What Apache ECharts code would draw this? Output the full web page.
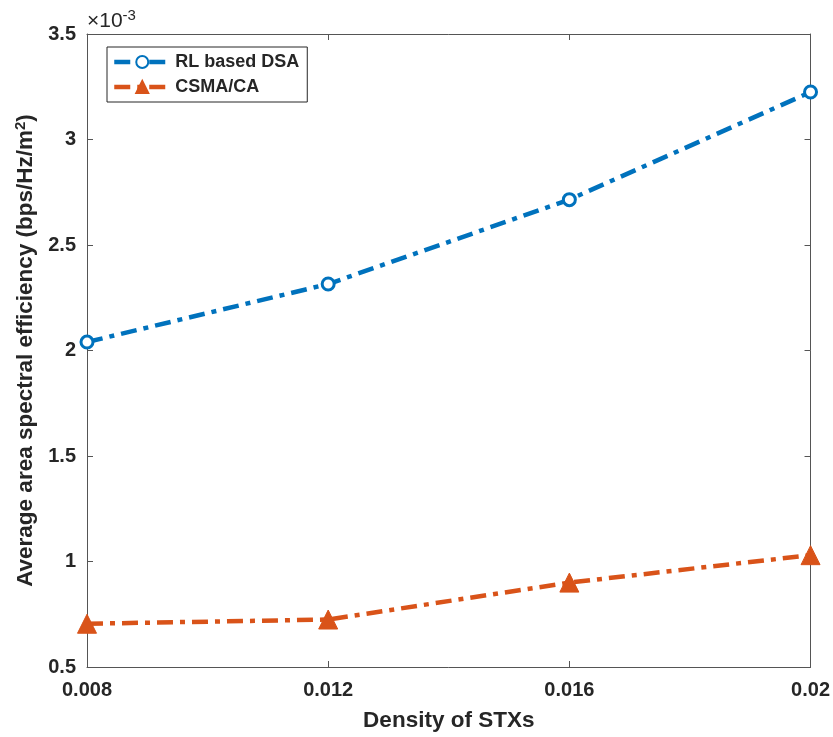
<!DOCTYPE html>
<html>
<head>
<meta charset="utf-8">
<script src="https://cdn.jsdelivr.net/npm/echarts@6/dist/echarts.min.js"></script>
<style>html,body{margin:0;padding:0;background:#fff}#c{width:833px;height:737px}</style>
</head>
<body>
<div id="c"></div>
<script>
// Density of STXs
var densities = [0.008, 0.012, 0.016, 0.02];
// Average area spectral efficiency, in units of 1e-3 bps/Hz/m^2
var rlDsa = [2.04, 2.315, 2.715, 3.225];
var csmaCa = [0.705, 0.725, 0.90, 1.03];
var xTicks = [0.008, 0.012, 0.016, 0.02];
var yTicks = [0.5, 1, 1.5, 2, 2.5, 3, 3.5];

var FONT = 'Liberation Sans, Arial, Helvetica, sans-serif';
var TXT = '#262626';
var chart = echarts.init(document.getElementById('c'));

function pairs(xs, ys) { return xs.map(function (x, i) { return [x, ys[i]]; }); }

var axisCommon = {
  axisLine: { show: true, onZero: false, lineStyle: { color: '#555', width: 1 } },
  axisTick: { show: true, inside: true, length: 6, lineStyle: { color: '#555' } },
  splitLine: { show: false }
};

chart.setOption({
  animation: false,
  backgroundColor: '#fff',
  grid: { left: 87, right: 22, top: 34, bottom: 68, containLabel: false },
  xAxis: [
    Object.assign({
      type: 'value', min: 0.008, max: 0.02, interval: 0.004,
      name: 'Density of STXs', nameLocation: 'middle', nameGap: 42,
      nameTextStyle: { fontFamily: FONT, fontWeight: 'bold', fontSize: 22.5, color: TXT },
      axisLabel: { fontFamily: FONT, fontWeight: 'bold', fontSize: 20, color: TXT, margin: 13,
        formatter: function (v) { return String(+v.toFixed(3)); } }
    }, axisCommon),
    Object.assign({
      type: 'value', position: 'top', min: 0.008, max: 0.02, interval: 0.004,
      axisLabel: { show: false }
    }, axisCommon)
  ],
  yAxis: [
    Object.assign({
      type: 'value', min: 0.5, max: 3.5, interval: 0.5,
      name: 'Average area spectral efficiency (bps/Hz/m{sup|2})', nameLocation: 'middle', nameGap: 38,
      nameTextStyle: { fontFamily: FONT, fontWeight: 'bold', fontSize: 22.5, color: TXT,
        rich: { sup: { fontFamily: FONT, fontWeight: 'bold', fontSize: 15, color: TXT, verticalAlign: 'top', padding: [0, 0, 10, 0] } } },
      axisLabel: { fontFamily: FONT, fontWeight: 'bold', fontSize: 20, color: TXT, margin: 11 }
    }, axisCommon),
    Object.assign({
      type: 'value', position: 'right', min: 0.5, max: 3.5, interval: 0.5,
      axisLabel: { show: false }
    }, axisCommon)
  ],
  legend: {
    orient: 'vertical', left: 107, top: 47,
    backgroundColor: '#fff', borderColor: '#262626', borderWidth: 1,
    padding: [6, 8, 6, 5], itemGap: 7, itemWidth: 56, itemHeight: 15,
    lineStyle: { width: 4.5 },
    textStyle: { fontFamily: FONT, fontWeight: 'bold', fontSize: 18, color: TXT },
    data: ['RL based DSA', 'CSMA/CA']
  },
  graphic: [{
    type: 'text', left: 87, top: 8,
    style: {
      text: '×10{sup|-3}', fontFamily: FONT, fontSize: 21, fill: TXT,
      rich: { sup: { fontFamily: FONT, fontSize: 15, fill: TXT, verticalAlign: 'top', padding: [0, 0, 12, 0] } }
    }
  }],
  series: [
    {
      name: 'RL based DSA', type: 'line', data: pairs(densities, rlDsa),
      symbol: 'circle', symbolSize: 12,
      lineStyle: { color: '#0072BD', width: 4.5, type: [16, 7, 5, 7] },
      itemStyle: { color: '#fff', borderColor: '#0072BD', borderWidth: 3 },
      z: 3
    },
    {
      name: 'CSMA/CA', type: 'line', data: pairs(densities, csmaCa),
      symbol: 'triangle', symbolSize: 19,
      lineStyle: { color: '#D95319', width: 4.5, type: [16, 7, 5, 7] },
      itemStyle: { color: '#D95319', borderColor: '#D95319', borderWidth: 1 },
      z: 3
    }
  ]
});
</script>
</body>
</html>
